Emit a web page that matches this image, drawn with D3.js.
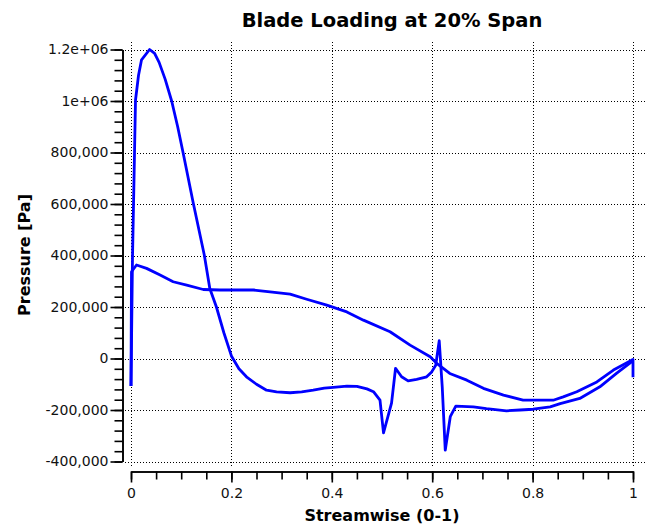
<!DOCTYPE html>
<html>
<head>
<meta charset="utf-8">
<script src="https://cdn.jsdelivr.net/npm/d3@7"></script>
<style>
  html, body { margin: 0; padding: 0; background: #fff; }
  svg { display: block; font-family: "DejaVu Sans", Verdana, sans-serif; }
</style>
</head>
<body>
<script>
// streamwise position (0-1) and pressure [Pa]
const sideA = [
    [0, -107000], [0.003, 394000], [0.007, 798000], [0.009, 1004000], [0.015, 1100000],
    [0.021, 1160000], [0.037, 1200000], [0.047, 1185000], [0.056, 1150000], [0.068, 1085000],
    [0.081, 1000000], [0.093, 900000], [0.104, 797000], [0.124, 604000], [0.146, 402000],
    [0.157, 272000], [0.17, 201000], [0.185, 100000], [0.2, 10000], [0.215, -40000],
    [0.23, -71000], [0.25, -100000], [0.27, -123000], [0.29, -130000], [0.317, -133000],
    [0.34, -130000], [0.363, -123000], [0.385, -115000], [0.403, -112000], [0.43, -107000],
    [0.45, -108000], [0.47, -118000], [0.483, -129000], [0.496, -162000], [0.503, -289000],
    [0.519, -173000], [0.527, -38000], [0.539, -71000], [0.552, -87000], [0.569, -81000],
    [0.589, -71000], [0.599, -52000], [0.607, -26000], [0.614, 69000], [0.62, -110000],
    [0.626, -356000], [0.636, -226000], [0.647, -185000], [0.682, -188000], [0.708, -195000],
    [0.748, -203000], [0.775, -200000], [0.801, -197000], [0.835, -188000], [0.855, -175000],
    [0.894, -155000], [0.934, -110000], [0.967, -58000], [0.997, -13000], [1.0, -4000]
];
const sideB = [
    [0, -107000], [0.001, 337000], [0.011, 363000], [0.031, 350000], [0.058, 324000],
    [0.084, 298000], [0.111, 285000], [0.144, 268000], [0.177, 266000], [0.244, 266000],
    [0.277, 259000], [0.317, 250000], [0.35, 230000], [0.39, 207000], [0.43, 181000],
    [0.463, 149000], [0.516, 104000], [0.556, 52000], [0.596, 7000], [0.609, -19000],
    [0.635, -58000], [0.669, -84000], [0.702, -116000], [0.742, -142000], [0.781, -162000],
    [0.841, -162000], [0.861, -149000], [0.888, -129000], [0.928, -91000], [0.961, -45000],
    [1.0, -4000], [1.0, -73000]
];
const xTicks = [0, 0.2, 0.4, 0.6, 0.8, 1];
const xTickLabels = ["0", "0.2", "0.4", "0.6", "0.8", "1"];
const yTicks = [-400000, -200000, 0, 200000, 400000, 600000, 800000, 1000000, 1200000];
const yTickLabels = ["-400,000", "-200,000", "0", "200,000", "400,000", "600,000", "800,000", "1e+06", "1.2e+06"];

document.addEventListener("DOMContentLoaded", () => {
    const width = 648;
    const height = 527;

    const xScale = d3.scaleLinear()
                     .domain([0, 1])
                     .range([131, 633]);
    const yScale = d3.scaleLinear()
                     .domain([-400000, 1200000])
                     .range([461.5, 49.5]);

    const svg = d3.select("body")
                  .append("svg")
                  .attr("width", width)
                  .attr("height", height);

    // dotted grid
    svg.append("g")
       .selectAll("line")
       .data(xTicks)
       .enter()
       .append("line")
       .attr("x1", d => Math.round(xScale(d)) + 0.5)
       .attr("x2", d => Math.round(xScale(d)) + 0.5)
       .attr("y1", 42)
       .attr("y2", 466)
       .attr("stroke", "#000")
       .attr("stroke-dasharray", "1,2");
    svg.append("g")
       .selectAll("line")
       .data(yTicks)
       .enter()
       .append("line")
       .attr("x1", 125)
       .attr("x2", 647)
       .attr("y1", d => Math.round(yScale(d)) + 0.5)
       .attr("y2", d => Math.round(yScale(d)) + 0.5)
       .attr("stroke", "#000")
       .attr("stroke-dasharray", "1,2");

    const line = d3.line()
                   .x(d => xScale(d[0]))
                   .y(d => yScale(d[1]));

    [sideA, sideB].forEach(series => {
        svg.append("path")
           .datum(series)
           .attr("d", line)
           .attr("fill", "none")
           .attr("stroke", "#0000ff")
           .attr("stroke-width", 2.8)
           .attr("stroke-linejoin", "round");
    });

    // y axis, offset to the left of the plot
    const yMinor = d3.range(-400000, 1200001, 40000);
    svg.append("g")
       .attr("transform", "translate(122.5, 0)")
       .call(d3.axisLeft(yScale).tickValues(yMinor).tickSize(8).tickSizeOuter(0).tickFormat(""));
    svg.append("g")
       .attr("id", "y-axis")
       .attr("transform", "translate(122.5, 0)")
       .call(d3.axisLeft(yScale)
               .tickValues(yTicks)
               .tickSize(12)
               .tickSizeOuter(0)
               .tickPadding(2)
               .tickFormat((d, i) => yTickLabels[i]));

    // x axis, offset below the plot
    const xMinor = d3.range(0, 1.0001, 0.05);
    svg.append("g")
       .attr("transform", "translate(0, 471.5)")
       .call(d3.axisBottom(xScale).tickValues(xMinor).tickSize(8).tickSizeOuter(0).tickFormat(""));
    svg.append("g")
       .attr("id", "x-axis")
       .attr("transform", "translate(0, 471.5)")
       .call(d3.axisBottom(xScale)
               .tickValues(xTicks)
               .tickSize(11)
               .tickSizeOuter(0)
               .tickPadding(6)
               .tickFormat((d, i) => xTickLabels[i]));

    svg.selectAll(".tick line").attr("stroke", "#000").attr("stroke-width", 1.6);
    svg.selectAll(".domain").attr("stroke", "#000").attr("stroke-width", 1.6);
    svg.selectAll(".tick text")
       .attr("fill", "#111")
       .style("font-size", "14px")
       .style("font-family", "\"DejaVu Sans\", Verdana, sans-serif");

    svg.append("text")
       .attr("x", 392)
       .attr("y", 27)
       .attr("text-anchor", "middle")
       .style("font-size", "19.5px")
       .style("font-weight", "bold")
       .text("Blade Loading at 20% Span");

    svg.append("text")
       .attr("x", 382)
       .attr("y", 521)
       .attr("text-anchor", "middle")
       .style("font-size", "16px")
       .style("font-weight", "bold")
       .text("Streamwise (0-1)");

    svg.append("text")
       .attr("transform", "translate(30, 255) rotate(-90)")
       .attr("text-anchor", "middle")
       .style("font-size", "16px")
       .style("font-weight", "bold")
       .text("Pressure [Pa]");
});
</script>
</body>
</html>
